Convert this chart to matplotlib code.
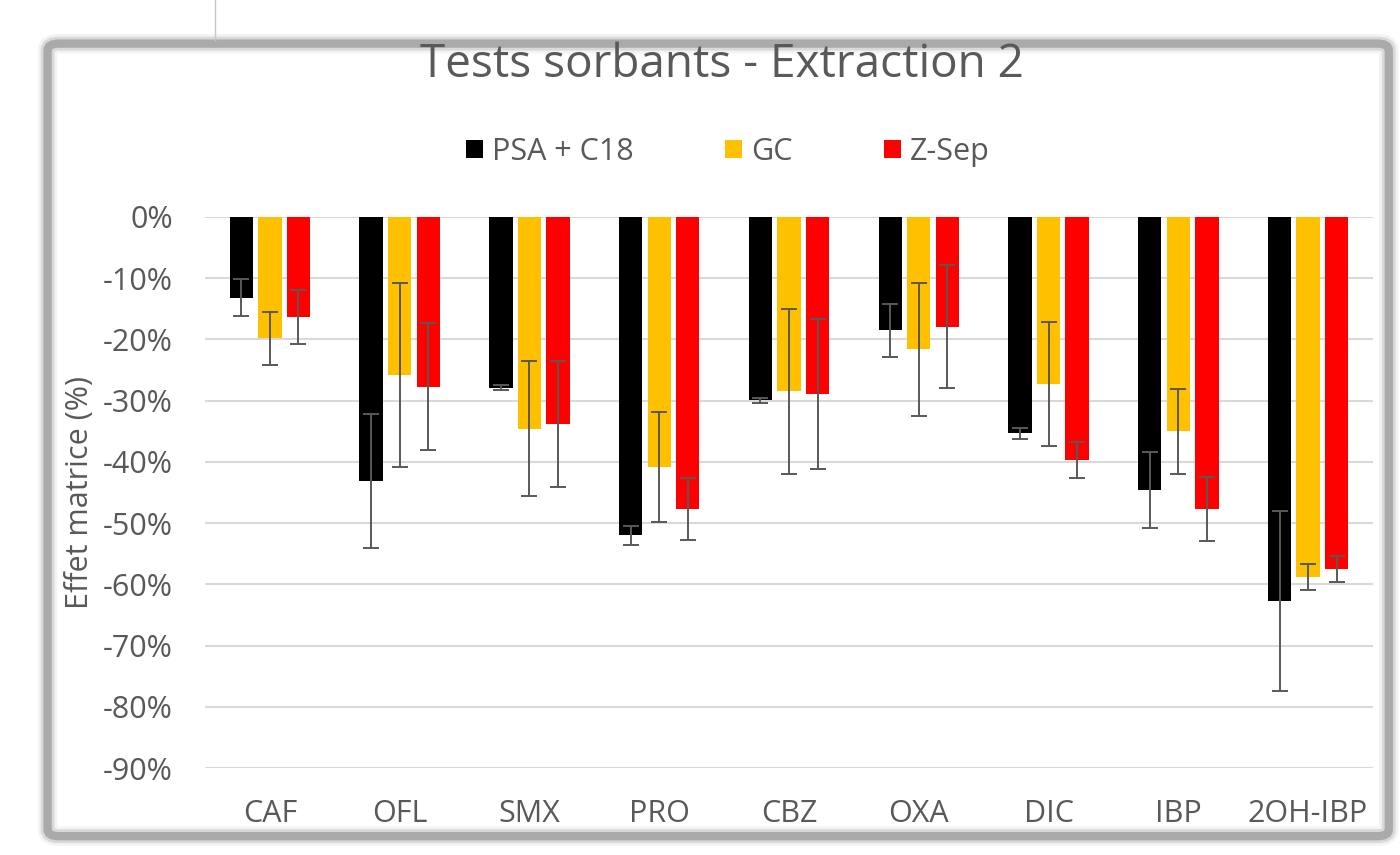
import numpy as np
import matplotlib.pyplot as plt
from matplotlib.patches import FancyBboxPatch
from matplotlib.lines import Line2D

# Data (matrix effect, %)
categories = ['CAF', 'OFL', 'SMX', 'PRO', 'CBZ', 'OXA', 'DIC', 'IBP', '2OH-IBP']
series_names = ['PSA + C18', 'GC', 'Z-Sep']
psa_c18 = [-13.2, -43.1, -27.9, -52.0, -29.9, -18.5, -35.3, -44.6, -62.8]
gc = [-19.8, -25.8, -34.6, -40.9, -28.5, -21.6, -27.3, -35.0, -58.8]
zsep = [-16.3, -27.7, -33.8, -47.7, -28.9, -17.9, -39.7, -47.7, -57.5]
psa_c18_err = [3.0, 10.9, 0.4, 1.5, 0.4, 4.3, 0.9, 6.2, 14.7]
gc_err = [4.3, 15.0, 11.0, 9.0, 13.5, 10.9, 10.1, 6.9, 2.1]
zsep_err = [4.4, 10.4, 10.3, 5.1, 12.3, 10.1, 2.9, 5.2, 2.2]
y_ticks = [0, -10, -20, -30, -40, -50, -60, -70, -80, -90]

colors = ['#000000', '#FFC000', '#FF0000']
txt = '#595959'
plt.rcParams['font.family'] = ['Open Sans', 'DejaVu Sans']

fig = plt.figure(figsize=(14, 8.55), dpi=100)

# Excel-like chart frame with soft shadow
for lw, a in [(14, 0.10), (10, 0.25), (6, 0.6)]:
    fig.patches.append(FancyBboxPatch((0.034, 0.022), 0.958, 0.927,
                                      boxstyle='round,pad=0,rounding_size=0.008',
                                      transform=fig.transFigure, fc='none',
                                      ec='#8c8c8c', lw=lw, alpha=a, zorder=0))
fig.lines.append(Line2D([215 / 1400, 215 / 1400], [1.0, 1 - 40 / 855],
                        transform=fig.transFigure, color='#c8c8c8', lw=1))

ax = fig.add_axes([205 / 1400, 1 - 768 / 855, 1168 / 1400, 551 / 855])

x = np.arange(len(categories))
off = 0.22
w = 0.18
vals = [psa_c18, gc, zsep]
errs = [psa_c18_err, gc_err, zsep_err]
for i in range(3):
    ax.bar(x + (i - 1) * off, vals[i], w, color=colors[i], label=series_names[i], zorder=2)
    ax.errorbar(x + (i - 1) * off, vals[i], yerr=errs[i], fmt='none', ecolor='#595959',
                elinewidth=1.4, capsize=6, capthick=1.4, zorder=3)

ax.set_ylim(-90, 0)
ax.set_xlim(-0.5, len(categories) - 0.5)
ax.set_yticks(y_ticks)
ax.set_yticklabels([f'{t}%' for t in y_ticks])
ax.set_xticks(x)
ax.set_xticklabels(categories)
ax.yaxis.grid(True, color='#d9d9d9', lw=1.5, zorder=0)
ax.set_axisbelow(True)
for s in ax.spines.values():
    s.set_visible(False)
ax.tick_params(axis='both', length=0, colors=txt, labelsize=22)
ax.tick_params(axis='y', pad=23)
ax.tick_params(axis='x', pad=22)
ax.set_ylabel('Effet matrice (%)', color=txt, fontsize=22, labelpad=6)

fig.text(0.516, 1 - 65 / 855, 'Tests sorbants - Extraction 2', ha='center', va='center',
         fontsize=33, color=txt)

fig.legend(loc='center', bbox_to_anchor=(0.520, 1 - 152 / 855), ncol=3, frameon=False,
           fontsize=22, labelcolor=txt, handlelength=0.55, handleheight=0.55,
           handletextpad=0.3, columnspacing=3.0)

plt.savefig('out.png', dpi=100)
